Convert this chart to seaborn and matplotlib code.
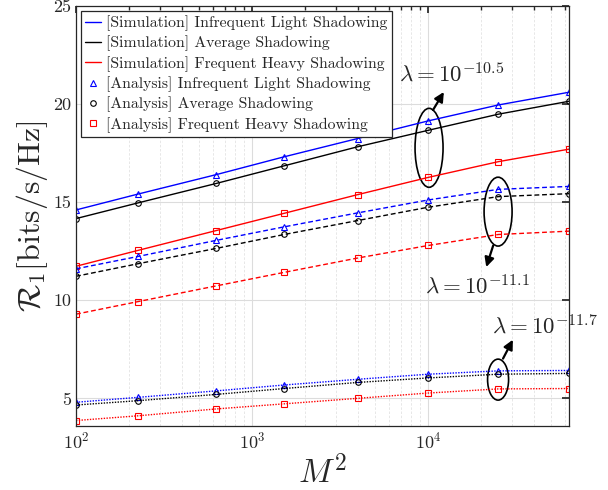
import numpy as np
import pandas as pd
import matplotlib
matplotlib.use("Agg")
import matplotlib.pyplot as plt
import seaborn as sns
from matplotlib.patches import Ellipse
from matplotlib.lines import Line2D

# ---------------- data ----------------
M = [10, 15, 25, 39, 63, 100, 158, 251]
x_vals = [m * m for m in M]

# lambda = 10^-10.5
light_a = [14.6, 15.41, 16.4, 17.31, 18.24, 19.14, 19.95, 20.6]
avg_a = [14.16, 14.96, 15.95, 16.85, 17.82, 18.66, 19.48, 20.14]
heavy_a = [11.73, 12.54, 13.55, 14.43, 15.38, 16.26, 17.06, 17.7]
# lambda = 10^-11.1
light_b = [11.6, 12.23, 13.05, 13.74, 14.45, 15.11, 15.65, 15.8]
avg_b = [11.22, 11.86, 12.64, 13.35, 14.06, 14.74, 15.28, 15.43]
heavy_b = [9.29, 9.93, 10.73, 11.42, 12.15, 12.79, 13.35, 13.52]
# lambda = 10^-11.7
light_c = [4.8, 5.05, 5.38, 5.68, 5.97, 6.23, 6.4, 6.42]
avg_c = [4.66, 4.88, 5.2, 5.5, 5.81, 6.04, 6.23, 6.27]
heavy_c = [3.87, 4.11, 4.46, 4.72, 5.0, 5.27, 5.48, 5.5]

scenarios = ["Infrequent Light Shadowing", "Average Shadowing", "Frequent Heavy Shadowing"]
colors = ["#0000ff", "#000000", "#ff0000"]
markers = ["^", "o", "s"]
groups = {
    "a": ([light_a, avg_a, heavy_a], "-"),
    "b": ([light_b, avg_b, heavy_b], (0, (3.5, 2))),
    "c": ([light_c, avg_c, heavy_c], (0, (1, 1.0))),
}

# ---------------- style ----------------
sns.set_theme(style="white")
plt.rcParams["font.family"] = "serif"
plt.rcParams["font.serif"] = ["cmr10", "DejaVu Serif"]
plt.rcParams["mathtext.fontset"] = "cm"
plt.rcParams["axes.formatter.use_mathtext"] = True

fig = plt.figure(figsize=(6.08, 4.90), dpi=100)
ax = fig.add_axes([0.125, 0.131, 0.811, 0.857])

for key, (series, ls) in groups.items():
    for s, col, mk, vals in zip(scenarios, colors, markers, series):
        df = pd.DataFrame({"x": x_vals, "y": vals})
        sns.lineplot(data=df, x="x", y="y", ax=ax, color=col, linestyle=ls,
                     linewidth=1.0, legend=False)
        sns.lineplot(data=df, x="x", y="y", ax=ax, color=col, linestyle="none",
                     marker=mk, markersize=4.0, markerfacecolor="none",
                     markeredgecolor=col, markeredgewidth=0.8, legend=False)

ax.set_xscale("log")
ax.set_xlim(100, 63001)
ax.set_ylim(3.6, 25)
ax.set_yticks([5, 10, 15, 20, 25])
ax.set_yticklabels(["5", "10", "15", "20", "25"])

ax.grid(True, which="major", color="#dcdcdc", linewidth=0.8, linestyle="-")
ax.grid(True, which="minor", axis="x", color="#e3e3e3", linewidth=0.6, linestyle=(0, (3, 2)))
ax.tick_params(which="both", direction="in", top=True, right=True, colors="#262626",
               labelsize=13)
ax.tick_params(which="major", length=5)
ax.tick_params(which="minor", length=3)
for sp in ax.spines.values():
    sp.set_color("#262626")
    sp.set_linewidth(0.9)

ax.set_xlabel(r"$M^2$", fontsize=24, labelpad=2, color="#262626")
ax.set_ylabel(r"$\mathcal{R}_1[\mathrm{bits/s/Hz}]$", fontsize=23, labelpad=2, color="#262626")

# legend
handles = []
labels = []
for s, col in zip(scenarios, colors):
    handles.append(Line2D([], [], color=col, linewidth=1.0))
    labels.append("[Simulation] " + s)
for s, col, mk in zip(scenarios, colors, markers):
    handles.append(Line2D([], [], color=col, linestyle="none", marker=mk, markersize=4,
                          markerfacecolor="none", markeredgecolor=col, markeredgewidth=0.8))
    labels.append("[Analysis] " + s)
leg = ax.legend(handles, labels, loc="upper left", fontsize=11.3, frameon=True, fancybox=False,
                edgecolor="#262626", framealpha=1, handlelength=1.0, handletextpad=0.3,
                labelspacing=0.3, borderpad=0.3, borderaxespad=0.3)
leg.get_frame().set_linewidth(0.9)

# annotations (axes fraction)
for (cx, cy, w, h) in [(0.716, 0.662, 0.0568, 0.188), (0.856, 0.510, 0.0568, 0.164),
                       (0.856, 0.110, 0.0426, 0.0976)]:
    ax.add_patch(Ellipse((cx, cy), w, h, transform=ax.transAxes, fill=False,
                         edgecolor="black", linewidth=1.2, clip_on=False))

arrowprops = dict(arrowstyle="-|>", color="black", linewidth=1.6, mutation_scale=14,
                  shrinkA=0, shrinkB=0)
ax.annotate("", xy=(0.746, 0.795), xytext=(0.724, 0.752), xycoords="axes fraction",
            arrowprops=arrowprops)
ax.annotate("", xy=(0.832, 0.378), xytext=(0.846, 0.429), xycoords="axes fraction",
            arrowprops=arrowprops)
ax.annotate("", xy=(0.886, 0.205), xytext=(0.866, 0.160), xycoords="axes fraction",
            arrowprops=arrowprops)

ax.text(0.761, 0.838, r"$\lambda=10^{-10.5}$", transform=ax.transAxes, fontsize=16.5,
        ha="center", va="center")
ax.text(0.815, 0.335, r"$\lambda=10^{-11.1}$", transform=ax.transAxes, fontsize=16.5,
        ha="center", va="center")
ax.text(0.951, 0.240, r"$\lambda=10^{-11.7}$", transform=ax.transAxes, fontsize=16.5,
        ha="center", va="center", clip_on=False)

fig.savefig("out.png", dpi=100)
